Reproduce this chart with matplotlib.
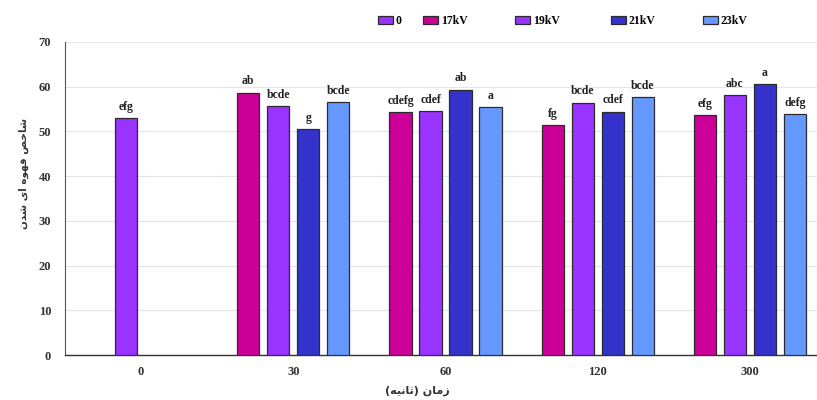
import numpy as np
import matplotlib
matplotlib.use("Agg")
import matplotlib.pyplot as plt
from matplotlib.patches import Patch

# ---- data ----
categories = ["0", "30", "60", "120", "300"]
series_names = ["17kV", "19kV", "21kV", "23kV"]
control_value = 53.0          # series "0" (untreated), shown only at time 0
control_letter = "efg"
values = {
    "17kV": [np.nan, 58.7, 54.3, 51.4, 53.7],
    "19kV": [np.nan, 55.6, 54.5, 56.4, 58.1],
    "21kV": [np.nan, 50.5, 59.3, 54.4, 60.5],
    "23kV": [np.nan, 56.6, 55.4, 57.6, 53.9],
}
letters = {
    "17kV": ["", "ab", "cdefg", "fg", "efg"],
    "19kV": ["", "bcde", "cdef", "bcde", "abc"],
    "21kV": ["", "g", "ab", "cdef", "a"],
    "23kV": ["", "bcde", "a", "bcde", "defg"],
}
colors = {"0": "#9933FF", "17kV": "#CC0099", "19kV": "#9933FF",
          "21kV": "#3333CC", "23kV": "#6699FF"}
ylabel_fa = "شاخص قهوه ای شدن"
xlabel_fa = "زمان (ثانیه)"

# ---- minimal Persian shaping (presentation forms + visual order) ----
# letter: (isolated, final, initial, medial); None for non-left-joining letters
FORMS = {
    "ا": ("\uFE8D", "\uFE8E", None, None),
    "د": ("\uFEA9", "\uFEAA", None, None),
    "ز": ("\uFEAF", "\uFEB0", None, None),
    "و": ("\uFEED", "\uFEEE", None, None),
    "ث": ("\uFE99", "\uFE9A", "\uFE9B", "\uFE9C"),
    "خ": ("\uFEA5", "\uFEA6", "\uFEA7", "\uFEA8"),
    "ش": ("\uFEB5", "\uFEB6", "\uFEB7", "\uFEB8"),
    "ص": ("\uFEB9", "\uFEBA", "\uFEBB", "\uFEBC"),
    "ق": ("\uFED5", "\uFED6", "\uFED7", "\uFED8"),
    "م": ("\uFEE1", "\uFEE2", "\uFEE3", "\uFEE4"),
    "ن": ("\uFEE5", "\uFEE6", "\uFEE7", "\uFEE8"),
    "ه": ("\uFEE9", "\uFEEA", "\uFEEB", "\uFEEC"),
    "ی": ("\uFBFC", "\uFBFD", "\uFBFE", "\uFBFF"),
}
MIRROR = {"(": ")", ")": "("}


def shape(text):
    out = []
    n = len(text)
    for i, ch in enumerate(text):
        if ch not in FORMS:
            out.append(ch)
            continue
        iso, fin, ini, med = FORMS[ch]
        prev = text[i - 1] if i > 0 else ""
        nxt = text[i + 1] if i < n - 1 else ""
        joins_prev = prev in FORMS and FORMS[prev][2] is not None
        joins_next = ini is not None and nxt in FORMS
        if joins_prev and joins_next:
            out.append(med)
        elif joins_prev:
            out.append(fin)
        elif joins_next:
            out.append(ini)
        else:
            out.append(iso)
    return "".join(MIRROR.get(c, c) for c in reversed(out))


# ---- figure ----
W, H = 817, 400
fig = plt.figure(figsize=(W / 100, H / 100), dpi=100)
ax_left, ax_right = 65, 817
ax_top, ax_bottom = 42, 355
ax = fig.add_axes([ax_left / W, 1 - ax_bottom / H,
                   (ax_right - ax_left) / W, (ax_bottom - ax_top) / H])

serif = "Liberation Serif"
x = np.arange(len(categories))
slot = 0.197
bw = 0.145
offsets = [-1.5, -0.5, 0.5, 1.5]
edge = "#2b2b2b"
label_kw = dict(ha="center", va="bottom", fontsize=8.5, fontweight="bold",
                family=serif, color="#222222")

# control bar at time 0
ax.bar(x[0] + offsets[1] * slot, control_value, width=bw,
       color=colors["0"], edgecolor=edge, linewidth=0.9, zorder=3)
ax.text(x[0] + offsets[1] * slot, control_value + 1.2, control_letter,
        **label_kw)

for s, name in enumerate(series_names):
    pos = x + offsets[s] * slot
    vals = np.array(values[name])
    ax.bar(pos, vals, width=bw, color=colors[name], edgecolor=edge,
           linewidth=0.9, zorder=3)
    for p, v, lt in zip(pos, vals, letters[name]):
        if np.isfinite(v) and lt:
            ax.text(p, v + 1.2, lt, **label_kw)

ax.set_ylim(0, 70)
ax.set_yticks(np.arange(0, 71, 10))
ax.set_xlim(-0.5, 4.5 - (826 - 817) / 152)
ax.set_xticks(x)
ax.set_xticklabels(categories)
for lab in ax.get_xticklabels() + ax.get_yticklabels():
    lab.set_family(serif)
    lab.set_fontweight("bold")
    lab.set_fontsize(9)
    lab.set_color("#333333")
ax.tick_params(axis="both", length=0)
ax.tick_params(axis="x", pad=8)
ax.tick_params(axis="y", pad=10)
ax.yaxis.grid(True, color="#e6e6e6", linewidth=0.8, zorder=0)
ax.set_axisbelow(True)
for side in ["top", "right"]:
    ax.spines[side].set_visible(False)
ax.spines["left"].set_color("#555555")
ax.spines["bottom"].set_color("#333333")
ax.spines["bottom"].set_linewidth(1.0)

fig.text(24 / W, 1 - 173 / H, shape(ylabel_fa), rotation=90, ha="center",
         va="center", fontsize=7.5, fontweight="bold", family="DejaVu Sans",
         color="#333333")
fig.text(417 / W, 1 - 391 / H, shape(xlabel_fa), ha="center", va="center",
         fontsize=8, fontweight="bold", family="DejaVu Sans",
         color="#333333")

# legend entries placed individually along the top
legend_items = [("0", 383), ("17kV", 428), ("19kV", 520), ("21kV", 616),
                ("23kV", 708)]
for label, px in legend_items:
    h = Patch(facecolor=colors[label], edgecolor=edge, linewidth=0.9)
    fig.legend([h], [label], loc="center left",
               bbox_to_anchor=(px / W - 0.006, 1 - 21 / H), frameon=False,
               handlelength=1.3, handleheight=0.7, handletextpad=0.2,
               borderaxespad=0, borderpad=0,
               prop={"family": serif, "weight": "bold", "size": 8.5})

fig.savefig("out.png", dpi=100)
